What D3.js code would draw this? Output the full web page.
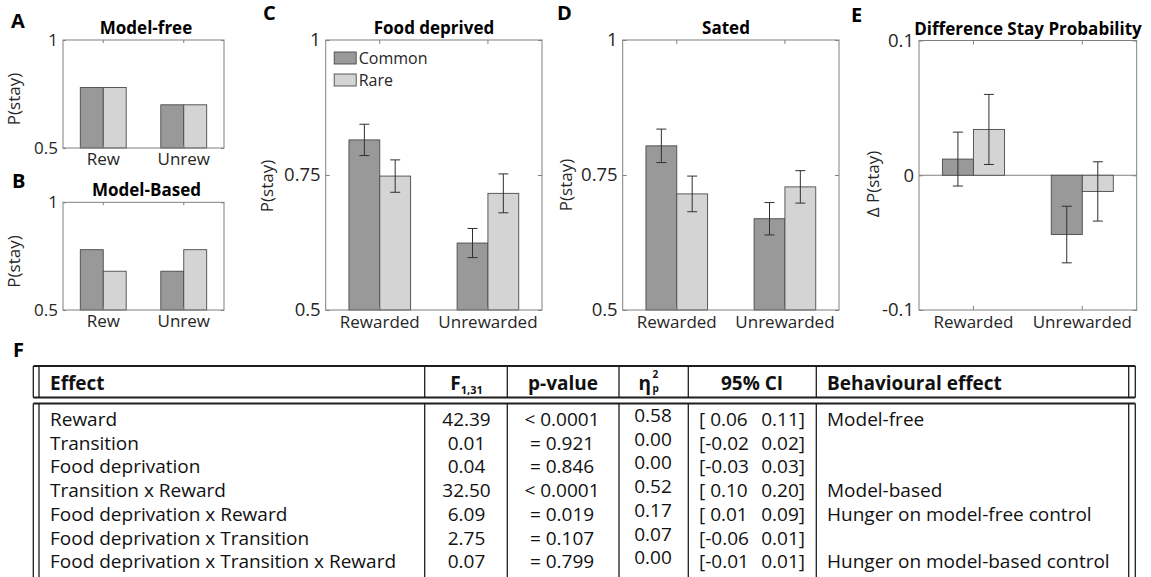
<!DOCTYPE html>
<html>
<head>
<meta charset="utf-8">
<script src="https://cdn.jsdelivr.net/npm/d3@7"></script>
<style>
  body { margin: 0; background: #fff; }
  svg { display: block; font-family: 'Open Sans', sans-serif; }
</style>
</head>
<body>
<div id="chart"></div>
<script>
// ---- data ----
var categories = ["Rewarded", "Unrewarded"];
var shortCategories = ["Rew", "Unrew"];
var transitions = ["Common", "Rare"];

var modelFreeCommon = [0.78, 0.70];
var modelFreeRare = [0.78, 0.70];
var modelBasedCommon = [0.78, 0.68];
var modelBasedRare = [0.68, 0.78];

var deprivedCommon = [0.815, 0.624];
var deprivedCommonErr = [0.029, 0.027];
var deprivedRare = [0.748, 0.716];
var deprivedRareErr = [0.030, 0.036];

var satedCommon = [0.804, 0.669];
var satedCommonErr = [0.031, 0.030];
var satedRare = [0.715, 0.728];
var satedRareErr = [0.033, 0.030];

var diffCommon = [0.012, -0.044];
var diffCommonErr = [0.020, 0.021];
var diffRare = [0.034, -0.012];
var diffRareErr = [0.026, 0.022];

var smallTicks = [0.5, 1];
var smallTickLabels = ["0.5", "1"];
var stayTicks = [0.5, 0.75, 1];
var stayTickLabels = ["0.5", "0.75", "1"];
var diffTicks = [-0.1, 0, 0.1];
var diffTickLabels = ["-0.1", "0", "0.1"];

var effects = ["Reward", "Transition", "Food deprivation", "Transition x Reward",
  "Food deprivation x Reward", "Food deprivation x Transition",
  "Food deprivation x Transition x Reward"];
var fValues = [42.39, 0.01, 0.04, 32.50, 6.09, 2.75, 0.07];
var pValues = ["< 0.0001", "= 0.921", "= 0.846", "< 0.0001", "= 0.019", "= 0.107", "= 0.799"];
var etaValues = [0.58, 0.00, 0.00, 0.52, 0.17, 0.07, 0.00];
var ciLower = [0.06, -0.02, -0.03, 0.10, 0.01, -0.06, -0.01];
var ciUpper = [0.11, 0.02, 0.03, 0.20, 0.09, 0.01, 0.01];
var behaviour = ["Model-free", "", "", "Model-based", "Hunger on model-free control", "",
  "Hunger on model-based control"];

// ---- styles ----
var commonFill = "#999999";
var rareFill = "#d3d4d3";
var barEdge = "#4a4a4a";
var boxColor = "#808080";
var textColor = "#262626";
var fontSize = 17;
var tableFont = 19;

var svg = d3.select("#chart").append("svg")
    .attr("width", 1151)
    .attr("height", 577);

svg.append("rect").attr("width", 1151).attr("height", 577).attr("fill", "#fff");

function drawPanel(p) {
    var g = svg.append("g");

    var x = d3.scaleBand()
        .domain(p.cats)
        .range([p.x0, p.x1])
        .paddingInner(0.43)
        .paddingOuter(0.215);
    var sub = d3.scaleBand().domain(transitions).range([0, x.bandwidth()]);
    var y = d3.scaleLinear().domain(p.domain).range([p.y1, p.y0]);
    var base = p.domain[0] < 0 ? 0 : p.domain[0];

    var series = [
        { name: "Common", vals: p.common, err: p.commonErr, fill: commonFill },
        { name: "Rare", vals: p.rare, err: p.rareErr, fill: rareFill }
    ];

    if (p.domain[0] < 0) {
        g.append("line")
            .attr("x1", p.x0).attr("x2", p.x1)
            .attr("y1", y(0)).attr("y2", y(0))
            .attr("stroke", boxColor).attr("stroke-width", 1);
    }

    series.forEach(function (s) {
        g.selectAll(null)
            .data(p.cats)
            .enter()
            .append("rect")
            .attr("x", function (c) { return x(c) + sub(s.name); })
            .attr("width", sub.bandwidth())
            .attr("y", function (c, i) { return y(Math.max(s.vals[i], base)); })
            .attr("height", function (c, i) { return Math.abs(y(s.vals[i]) - y(base)); })
            .attr("fill", s.fill)
            .attr("stroke", barEdge)
            .attr("stroke-width", 0.9);
    });

    series.forEach(function (s) {
        if (!s.err) return;
        var cx = function (c) { return x(c) + sub(s.name) + sub.bandwidth() / 2; };
        var eg = g.selectAll(null).data(p.cats).enter().append("g")
            .attr("stroke", "#303030").attr("stroke-width", 1);
        eg.append("line")
            .attr("x1", cx).attr("x2", cx)
            .attr("y1", function (c, i) { return y(s.vals[i] - s.err[i]); })
            .attr("y2", function (c, i) { return y(s.vals[i] + s.err[i]); });
        [-1, 1].forEach(function (sign) {
            eg.append("line")
                .attr("x1", function (c) { return cx(c) - 5; })
                .attr("x2", function (c) { return cx(c) + 5; })
                .attr("y1", function (c, i) { return y(s.vals[i] + sign * s.err[i]); })
                .attr("y2", function (c, i) { return y(s.vals[i] + sign * s.err[i]); });
        });
    });

    var tl = p.tickLen;
    function styleAxis(size) {
        return function (a) {
            a.select(".domain").remove();
            a.selectAll(".tick line").attr("stroke", boxColor);
            a.selectAll(".tick text")
                .attr("fill", textColor)
                .style("font-size", size + "px")
                .style("font-family", "'Open Sans', sans-serif");
        };
    }

    g.append("g").attr("transform", "translate(" + p.x0 + ",0)")
        .call(d3.axisLeft(y).tickValues(p.ticks)
            .tickFormat(function (d, i) { return p.tickLabels[i]; })
            .tickSize(-tl).tickPadding(5))
        .call(styleAxis(p.yTickFont));
    g.append("g").attr("transform", "translate(" + p.x1 + ",0)")
        .call(d3.axisRight(y).tickValues(p.ticks).tickFormat("").tickSize(-tl))
        .call(styleAxis(fontSize));
    g.append("g").attr("transform", "translate(0," + p.y0 + ")")
        .call(d3.axisTop(x).tickFormat("").tickSize(-tl))
        .call(styleAxis(fontSize));
    g.append("g").attr("transform", "translate(0," + p.y1 + ")")
        .call(d3.axisBottom(x).tickSize(-tl).tickPadding(p.xPad))
        .call(styleAxis(fontSize));

    g.append("rect")
        .attr("x", p.x0).attr("y", p.y0)
        .attr("width", p.x1 - p.x0).attr("height", p.y1 - p.y0)
        .attr("fill", "none").attr("stroke", boxColor).attr("stroke-width", 1);

    g.append("text")
        .attr("x", p.titleX).attr("y", p.y0 - 6)
        .attr("text-anchor", "middle")
        .style("font-size", fontSize + "px").style("font-weight", "bold")
        .attr("fill", "#000")
        .text(p.title);

    g.append("text")
        .attr("transform", "translate(" + p.labelX + "," + p.labelY + ") rotate(-90)")
        .attr("text-anchor", "middle")
        .style("font-size", fontSize + "px")
        .attr("fill", textColor)
        .text(p.ylabel);

    g.append("text")
        .attr("x", p.letterX).attr("y", p.letterY)
        .style("font-size", "20px").style("font-weight", "bold")
        .attr("fill", "#000")
        .text(p.letter);

    if (p.legend) {
        var lg = g.append("g");
        series.forEach(function (s, i) {
            lg.append("rect")
                .attr("x", p.x0 + 8.5).attr("y", p.y0 + 12 + i * 22)
                .attr("width", 22).attr("height", 12)
                .attr("fill", s.fill).attr("stroke", barEdge).attr("stroke-width", 0.9);
            lg.append("text")
                .attr("x", p.x0 + 33).attr("y", p.y0 + 24 + i * 22)
                .style("font-size", "16px")
                .attr("fill", textColor)
                .text(s.name);
        });
    }
}

drawPanel({ letter: "A", letterX: 11, letterY: 28, title: "Model-free", titleX: 146,
    x0: 63, x1: 224, y0: 40, y1: 148, domain: [0.5, 1], ticks: smallTicks, tickLabels: smallTickLabels,
    cats: shortCategories, common: modelFreeCommon, rare: modelFreeRare, yTickFont: 17,
    ylabel: "P(stay)", labelX: 20, labelY: 99, xPad: 4.5, tickLen: 3 });

drawPanel({ letter: "B", letterX: 12, letterY: 188, title: "Model-Based", titleX: 146.5,
    x0: 63, x1: 224, y0: 202.3, y1: 310, domain: [0.5, 1], ticks: smallTicks, tickLabels: smallTickLabels,
    cats: shortCategories, common: modelBasedCommon, rare: modelBasedRare, yTickFont: 17,
    ylabel: "P(stay)", labelX: 20, labelY: 261.5, xPad: 4.5, tickLen: 3 });

drawPanel({ letter: "C", letterX: 263, letterY: 20, title: "Food deprived", titleX: 434,
    x0: 325.7, x1: 542, y0: 40, y1: 310, domain: [0.5, 1], ticks: stayTicks, tickLabels: stayTickLabels,
    cats: categories, common: deprivedCommon, rare: deprivedRare, yTickFont: 18.5,
    commonErr: deprivedCommonErr, rareErr: deprivedRareErr,
    ylabel: "P(stay)", labelX: 273, labelY: 186, xPad: 6, tickLen: 4, legend: true });

drawPanel({ letter: "D", letterX: 557, letterY: 19.5, title: "Sated", titleX: 726,
    x0: 622.7, x1: 839, y0: 40, y1: 310, domain: [0.5, 1], ticks: stayTicks, tickLabels: stayTickLabels,
    cats: categories, common: satedCommon, rare: satedRare, yTickFont: 18.5,
    commonErr: satedCommonErr, rareErr: satedRareErr,
    ylabel: "P(stay)", labelX: 571.5, labelY: 185, xPad: 6, tickLen: 4 });

drawPanel({ letter: "E", letterX: 851, letterY: 21.5, title: "Difference Stay Probability", titleX: 1028,
    x0: 919, x1: 1136.7, y0: 40.5, y1: 310, domain: [-0.1, 0.1], ticks: diffTicks, tickLabels: diffTickLabels,
    cats: categories, common: diffCommon, rare: diffRare, yTickFont: 18.5,
    commonErr: diffCommonErr, rareErr: diffRareErr,
    ylabel: "\u0394 P(stay)", labelX: 879, labelY: 184, xPad: 6, tickLen: 4 });

// ---- table F ----
var tbl = svg.append("g");
var lineColor = "#1e1e1e";
var tLeft = [33.3, 39], tRight = [1128.7, 1135.3];
var colSeps = [424.7, 507.3, 619, 688.3, 816.3];
var headTop = 366, headBottom = 397.5, bodyTop = 403.5, bodyBottom = 578;
var rowY = d3.scaleLinear().domain([0, 1]).range([426, 449.7]);

tbl.append("text").attr("x", 13).attr("y", 357)
    .style("font-size", "20px").style("font-weight", "bold").text("F");

[[headTop, headBottom], [bodyTop, bodyBottom]].forEach(function (b) {
    [b[0], b[1]].forEach(function (yy) {
        tbl.append("line").attr("x1", tLeft[0]).attr("x2", tRight[1])
            .attr("y1", yy).attr("y2", yy)
            .attr("stroke", lineColor).attr("stroke-width", 1.8);
    });
    tLeft.concat(tRight).concat(colSeps).forEach(function (xx) {
        tbl.append("line").attr("x1", xx).attr("x2", xx)
            .attr("y1", b[0]).attr("y2", b[1])
            .attr("stroke", lineColor).attr("stroke-width", 1.3);
    });
});

function headText(x, anchor, txt) {
    return tbl.append("text").attr("x", x).attr("y", 390)
        .attr("text-anchor", anchor)
        .style("font-size", tableFont + "px").style("font-weight", "bold")
        .attr("fill", "#111").text(txt);
}
headText(50, "start", "Effect");
var fHead = headText(466.5, "middle", "F");
fHead.append("tspan").attr("dy", 3.5).style("font-size", "11px").text("1,31");
headText(563, "middle", "p-value");
headText(651, "end", "\u03b7");
tbl.append("text").attr("x", 652.5).attr("y", 378).style("font-size", "10px")
    .style("font-weight", "bold").attr("fill", "#111").text("2");
tbl.append("text").attr("x", 652.5).attr("y", 392).style("font-size", "10px")
    .style("font-weight", "bold").attr("fill", "#111").text("p");
headText(752, "middle", "95% CI");
headText(827, "start", "Behavioural effect");

function bodyColumn(values, x, anchor, fmt, dy) {
    tbl.selectAll(null).data(values).enter().append("text")
        .attr("x", x)
        .attr("y", function (d, i) { return rowY(i) + (dy || 0); })
        .attr("text-anchor", anchor)
        .style("font-size", tableFont + "px")
        .attr("fill", "#111")
        .text(fmt);
}
bodyColumn(effects, 50, "start", function (d) { return d; });
bodyColumn(fValues, 466.5, "middle", function (d) { return d.toFixed(2); });
bodyColumn(pValues, 562, "middle", function (d) { return d; });
bodyColumn(etaValues, 653, "middle", function (d) { return d.toFixed(2); }, -4);
bodyColumn(ciLower, 699, "start", function (d) {
    return "[" + (d < 0 ? "-" : "\u00a0") + Math.abs(d).toFixed(2);
});
bodyColumn(ciUpper, 805, "end", function (d) { return d.toFixed(2) + "]"; });
bodyColumn(behaviour, 827, "start", function (d) { return d; });
</script>
</body>
</html>
